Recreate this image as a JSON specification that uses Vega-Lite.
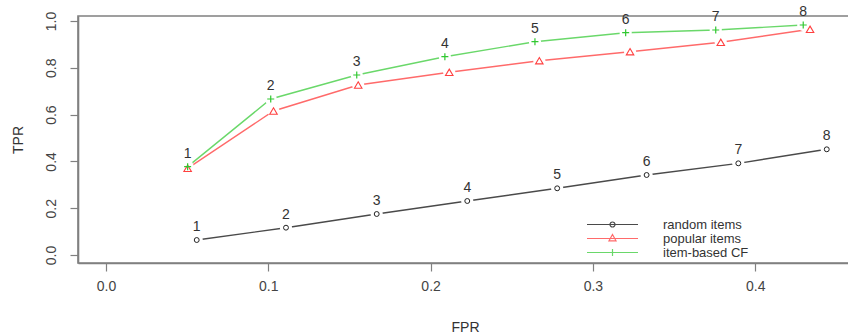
{
  "$schema": "https://vega.github.io/schema/vega-lite/v6.json",
  "width": 772,
  "height": 247,
  "autosize": {"type": "none"},
  "padding": {"left": 78, "top": 16, "right": -2, "bottom": 70},
  "background": "white",
  "config": {
    "view": {"stroke": "#808080", "strokeWidth": 1.6},
    "font": "Liberation Sans",
    "axis": {
      "domainColor": "#808080",
      "domainWidth": 1.6,
      "tickColor": "#808080",
      "tickWidth": 1.2,
      "labelColor": "#444444",
      "titleColor": "#333333",
      "labelFont": "Liberation Sans",
      "titleFont": "Liberation Sans",
      "labelFontSize": 14,
      "titleFontSize": 14,
      "titleFontWeight": "normal",
      "grid": false,
      "labelOverlap": false,
      "labelFlush": false
    }
  },
  "data": {
    "values": [
      {"series": "random items", "k": 1, "fpr": 0.0559, "tpr": 0.064},
      {"series": "random items", "k": 2, "fpr": 0.1109, "tpr": 0.1167},
      {"series": "random items", "k": 3, "fpr": 0.1668, "tpr": 0.1752},
      {"series": "random items", "k": 4, "fpr": 0.2226, "tpr": 0.2308},
      {"series": "random items", "k": 5, "fpr": 0.2780, "tpr": 0.2850},
      {"series": "random items", "k": 6, "fpr": 0.3331, "tpr": 0.3419},
      {"series": "random items", "k": 7, "fpr": 0.3896, "tpr": 0.3918},
      {"series": "random items", "k": 8, "fpr": 0.4441, "tpr": 0.4517},
      {"series": "popular items", "k": 1, "fpr": 0.0503, "tpr": 0.3705},
      {"series": "popular items", "k": 2, "fpr": 0.1032, "tpr": 0.6154},
      {"series": "popular items", "k": 3, "fpr": 0.1554, "tpr": 0.7265},
      {"series": "popular items", "k": 4, "fpr": 0.2115, "tpr": 0.7808},
      {"series": "popular items", "k": 5, "fpr": 0.2670, "tpr": 0.8303},
      {"series": "popular items", "k": 6, "fpr": 0.3229, "tpr": 0.8688},
      {"series": "popular items", "k": 7, "fpr": 0.3788, "tpr": 0.9090},
      {"series": "popular items", "k": 8, "fpr": 0.4338, "tpr": 0.9645},
      {"series": "item-based CF", "k": 1, "fpr": 0.0503, "tpr": 0.3775},
      {"series": "item-based CF", "k": 2, "fpr": 0.1015, "tpr": 0.6667},
      {"series": "item-based CF", "k": 3, "fpr": 0.1545, "tpr": 0.7692},
      {"series": "item-based CF", "k": 4, "fpr": 0.2088, "tpr": 0.8474},
      {"series": "item-based CF", "k": 5, "fpr": 0.2643, "tpr": 0.9115},
      {"series": "item-based CF", "k": 6, "fpr": 0.3202, "tpr": 0.9500},
      {"series": "item-based CF", "k": 7, "fpr": 0.3757, "tpr": 0.9615},
      {"series": "item-based CF", "k": 8, "fpr": 0.4296, "tpr": 0.9829}
    ]
  },
  "encoding": {
    "x": {
      "field": "fpr", "type": "quantitative",
      "scale": {"domain": [-0.01725, 0.45842], "nice": false, "zero": false},
      "axis": {
        "orient": "bottom",
        "values": [0, 0.1, 0.2, 0.3, 0.4],
        "format": ".1f",
        "title": "FPR",
        "tickSize": 8,
        "labelPadding": 8,
        "titleX": 387,
        "titleY": 64,
        "titleAlign": "center",
        "titleBaseline": "middle"
      }
    },
    "y": {
      "field": "tpr", "type": "quantitative",
      "scale": {"domain": [-0.0342, 1.0214], "nice": false, "zero": false},
      "axis": {
        "orient": "left",
        "values": [0, 0.2, 0.4, 0.6, 0.8, 1],
        "format": ".1f",
        "title": "TPR",
        "tickSize": 8,
        "labelAngle": -90,
        "labelAlign": "center",
        "labelBaseline": "bottom",
        "labelPadding": 12,
        "titleAngle": -90,
        "titleX": -60,
        "titleY": 123.5,
        "titleAlign": "center",
        "titleBaseline": "middle"
      }
    }
  },
  "layer": [
    {
      "mark": {"type": "line", "strokeWidth": 1.4},
      "encoding": {
        "color": {
          "field": "series", "type": "nominal",
          "scale": {"domain": ["random items", "popular items", "item-based CF"], "range": ["#4a4a4a", "#ff6a6a", "#6ad86a"]},
          "legend": {
            "orient": "none",
            "legendX": 528,
            "legendY": 202,
            "title": null,
            "padding": 0,
            "labelFontSize": 13,
            "labelFont": "Liberation Sans",
            "labelColor": "#333333",
            "symbolType": "M-5,0H5",
            "symbolSize": 104,
            "symbolStrokeWidth": 1.2,
            "labelOffset": 44,
            "rowPadding": 0,
            "encode": {
              "symbols": {
                "update": {
                  "shape": {"signal": "datum.value === 'random items' ? 'M-5,0H5M0.49,0A0.49,0.49 0 1,1 -0.49,0A0.49,0.49 0 1,1 0.49,0' : datum.value === 'popular items' ? 'M-5,0H5M0,-0.8L0.69,0.45L-0.69,0.45Z' : 'M-5,0H5M0,-0.69V0.69M-0.69,0H0.69'"}
                }
              }
            }
          }
        },
        "order": {"field": "k", "type": "quantitative"}
      }
    },
    {
      "mark": {"type": "circle", "color": "white", "opacity": 1, "size": 150},
      "encoding": {}
    },
    {
      "transform": [{"filter": "datum.series == 'random items'"}],
      "mark": {"type": "point", "shape": "circle", "filled": false, "color": "#222222", "opacity": 1, "size": 24, "strokeWidth": 1}
    },
    {
      "transform": [{"filter": "datum.series == 'popular items'"}],
      "mark": {"type": "point", "shape": "M0,-0.85L1,0.85L-1,0.85Z", "filled": false, "color": "#ff4040", "opacity": 1, "size": 56, "strokeWidth": 1.1}
    },
    {
      "transform": [{"filter": "datum.series == 'item-based CF'"}],
      "mark": {"type": "point", "shape": "M0,-1V1M-1,0H1", "filled": false, "color": "#30c830", "opacity": 1, "size": 49, "strokeWidth": 1.2}
    },
    {
      "transform": [{"filter": "datum.series != 'popular items'"}],
      "mark": {"type": "text", "dy": -13, "fontSize": 14, "font": "Liberation Sans", "color": "#333333", "baseline": "middle", "align": "center"},
      "encoding": {
        "text": {"field": "k", "type": "nominal"}
      }
    }
  ]
}
